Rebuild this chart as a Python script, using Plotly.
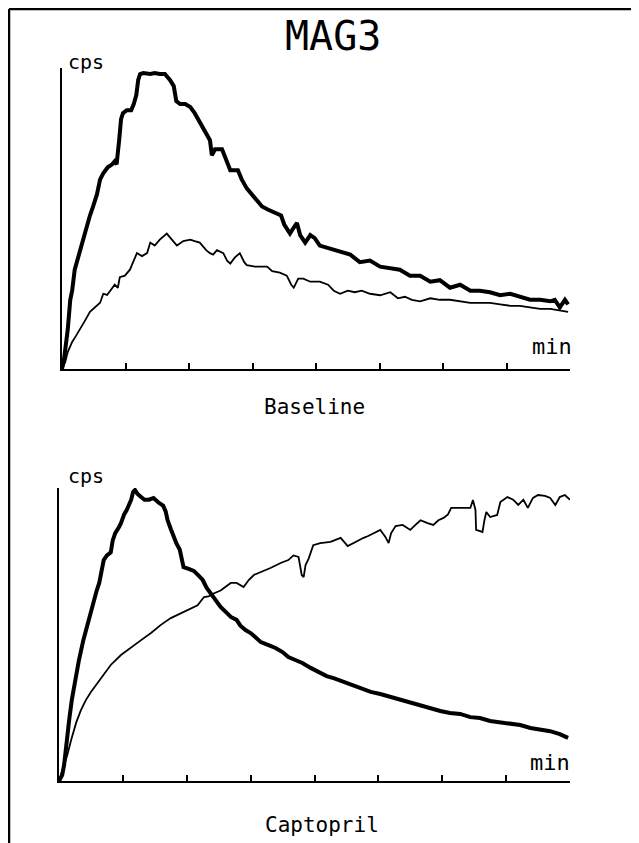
import plotly.graph_objects as go

W, H = 639, 843          # browser window
OFF = 8                  # default page margin of the html body
FW, FH = W - OFF, H - OFF

# ---------------- data (minutes, relative counts 0-100) ----------------
base_thick_t = [0, 0.03, 0.06, 0.09, 0.13, 0.16, 0.20, 0.25, 0.31, 0.38, 0.44, 0.49, 0.55, 0.60, 0.65,
                0.72, 0.79, 0.83, 0.86, 0.90, 0.93, 0.96, 1.02, 1.09, 1.13, 1.17, 1.20, 1.23, 1.28, 1.39,
                1.46, 1.54, 1.62, 1.70, 1.76, 1.80, 1.86, 1.94, 2.02, 2.09, 2.17, 2.25, 2.33, 2.36, 2.41,
                2.52, 2.58, 2.65, 2.77, 2.83, 2.91, 2.99, 3.06, 3.15, 3.24, 3.35, 3.45, 3.50, 3.59, 3.65,
                3.70, 3.75, 3.83, 3.91, 3.98, 4.06, 4.22, 4.38, 4.54, 4.69, 4.85, 5.01, 5.17, 5.32, 5.48,
                5.64, 5.80, 5.95, 6.11, 6.27, 6.43, 6.58, 6.74, 6.90, 7.06, 7.21, 7.37, 7.53, 7.69, 7.76,
                7.84, 7.92, 7.97]
base_thick_v = [0, 3, 8, 13, 23, 26, 33, 37, 41, 47, 51, 54, 58, 63, 65,
                67, 68, 69, 68, 76, 83, 85, 86, 86, 88, 91, 96, 98, 98.3, 98,
                98.3, 98, 98, 96, 94, 89, 88, 88, 87, 85, 82, 79, 76, 71, 73,
                73, 70, 66, 66, 63, 60, 58, 56, 54, 53, 52, 51, 48, 45, 47,
                48.5, 44.5, 42, 44.5, 43.5, 41, 40, 39, 38, 35.5, 36, 34, 33.5, 33, 31,
                31, 29, 29.5, 27, 28, 26, 26, 25.5, 24.5, 25, 24, 23, 23, 22.5, 23,
                20.5, 23, 21.5]

base_thin_t = [0, 0.05, 0.09, 0.16, 0.22, 0.28, 0.36, 0.44, 0.52, 0.60, 0.65, 0.71, 0.76, 0.83, 0.88,
               0.91, 0.99, 1.07, 1.12, 1.18, 1.26, 1.34, 1.39, 1.46, 1.54, 1.65, 1.73, 1.81, 1.91, 2.02,
               2.09, 2.17, 2.27, 2.33, 2.38, 2.44, 2.54, 2.60, 2.65, 2.72, 2.80, 2.87, 2.91, 3.04, 3.15,
               3.23, 3.31, 3.43, 3.54, 3.61, 3.65, 3.72, 3.80, 3.91, 4.06, 4.19, 4.28, 4.38, 4.50, 4.61,
               4.72, 4.85, 5.01, 5.17, 5.29, 5.40, 5.51, 5.64, 5.80, 5.95, 6.11, 6.27, 6.43, 6.58, 6.74,
               6.90, 7.06, 7.21, 7.37, 7.53, 7.69, 7.84, 7.97]
base_thin_v = [0, 2.3, 5.6, 9, 11, 13, 16, 19, 20.6, 22, 25, 24.6, 26, 28, 27,
               30.5, 31, 33, 35.5, 38.5, 37.5, 38.5, 42, 41, 43, 45, 43, 41, 42.5, 43,
               42.5, 42, 39.5, 38.5, 38, 39.5, 38.5, 36, 35, 37, 38.5, 35.5, 34.5, 34, 34,
               34, 32.5, 32, 31, 28, 27, 30, 30, 29, 29, 28, 26, 25, 26, 25.5,
               26, 25, 24.5, 25.5, 23.5, 24, 23, 22.5, 23.5, 23, 23, 22.5, 22, 22, 22,
               21.5, 21, 21, 20.5, 20, 20, 19.5, 19]

capt_thick_t = [0, 0.05, 0.08, 0.11, 0.16, 0.20, 0.25, 0.31, 0.38, 0.44, 0.47, 0.52, 0.55, 0.59, 0.63,
                0.67, 0.70, 0.75, 0.81, 0.84, 0.88, 0.94, 0.97, 1.02, 1.06, 1.13, 1.16, 1.19, 1.23, 1.28,
                1.34, 1.41, 1.48, 1.56, 1.63, 1.67, 1.70, 1.75, 1.80, 1.84, 1.89, 1.92, 1.95, 2.03, 2.11,
                2.19, 2.25, 2.31, 2.38, 2.45, 2.53, 2.61, 2.69, 2.78, 2.84, 2.92, 3.00, 3.08, 3.16, 3.28,
                3.39, 3.50, 3.59, 3.70, 3.81, 3.94, 4.06, 4.19, 4.31, 4.44, 4.56, 4.72, 4.88, 5.03, 5.19,
                5.34, 5.50, 5.66, 5.81, 5.97, 6.12, 6.28, 6.44, 6.59, 6.75, 6.91, 7.06, 7.22, 7.38, 7.53,
                7.69, 7.84, 7.97]
capt_thick_v = [0, 2, 5.5, 12, 21, 27.6, 34.5, 41, 48, 53, 56, 60, 62, 65, 67.6,
                72, 75.4, 77, 78, 82, 84.6, 86.7, 88, 91, 92.5, 96, 98.6, 99.3, 98, 97,
                96, 96, 96.6, 95, 94, 92, 89, 86, 83, 81, 79, 75.4, 73, 72.4, 71.7,
                70, 68.6, 66, 64, 62, 59.4, 57.7, 56, 55, 53, 51.5, 50.5, 49, 47.4, 46.4,
                45.4, 44, 42.3, 41.3, 40.3, 38.6, 37.2, 35.8, 35, 34, 32.8, 31.7, 30.4, 29.7, 28.7,
                27.6, 26.6, 25.6, 25, 23.9, 23.2, 22.9, 21.8, 21.5, 20.5, 20.1, 19.5, 19.1, 18.1, 17.7,
                17, 16, 14.7]

capt_thin_t = [0, 0.06, 0.13, 0.19, 0.27, 0.34, 0.42, 0.50, 0.58, 0.66, 0.81, 0.97, 1.13, 1.28, 1.44,
               1.59, 1.75, 1.91, 2.06, 2.17, 2.27, 2.34, 2.42, 2.53, 2.69, 2.78, 2.89, 2.97, 3.05, 3.16,
               3.31, 3.47, 3.59, 3.67, 3.75, 3.80, 3.83, 3.86, 3.91, 3.98, 4.09, 4.25, 4.41, 4.52, 4.64,
               4.77, 4.84, 4.92, 5.03, 5.11, 5.16, 5.20, 5.27, 5.38, 5.50, 5.58, 5.66, 5.77, 5.86, 5.94,
               6.02, 6.09, 6.14, 6.28, 6.44, 6.48, 6.52, 6.53, 6.63, 6.66, 6.69, 6.75, 6.86, 6.91, 7.02,
               7.11, 7.19, 7.27, 7.34, 7.42, 7.50, 7.61, 7.69, 7.77, 7.84, 7.92, 8.00]
capt_thin_v = [0, 3.8, 8.9, 14, 20, 24, 27.6, 30.4, 32.8, 35.5, 39.6, 43, 45.7, 48, 50.5,
               53.2, 55.6, 57.3, 59, 60, 62.8, 63, 64, 65, 67.6, 67.6, 66.2, 68.6, 70.3, 71.3,
               72.7, 74.4, 75.4, 77, 76.5, 70.3, 69.6, 73.7, 76, 80.5, 81.2, 81.6, 83, 80.2, 81.6,
               83, 83.6, 84.6, 85.7, 83.3, 81.2, 84.6, 87, 87.4, 85.7, 87.4, 89, 88, 87.4, 89,
               89.8, 91, 93.2, 93.2, 93.2, 95.9, 92.5, 85.7, 85, 89, 91.8, 90.1, 90.8, 95.2, 96.9,
               96, 94.2, 96, 93.2, 96.6, 97.6, 97.3, 96.6, 94.2, 96.9, 97.6, 96]

x_tick_vals = [0, 1, 2, 3, 4, 5, 6, 7, 8]

# ---------------- layout helpers (window pixel -> paper) ----------------
def px(x):
    return (x - OFF) / FW

def py(y):
    return 1 - (y - OFF) / FH

MONO = "DejaVu Sans Mono"

fig = go.Figure()

fig.add_trace(go.Scatter(x=base_thin_t, y=base_thin_v, mode="lines",
                         line=dict(color="black", width=1.8), xaxis="x", yaxis="y", showlegend=False))
fig.add_trace(go.Scatter(x=base_thick_t, y=base_thick_v, mode="lines",
                         line=dict(color="black", width=4), xaxis="x", yaxis="y", showlegend=False))
fig.add_trace(go.Scatter(x=capt_thin_t, y=capt_thin_v, mode="lines",
                         line=dict(color="black", width=1.8), xaxis="x2", yaxis="y2", showlegend=False))
fig.add_trace(go.Scatter(x=capt_thick_t, y=capt_thick_v, mode="lines",
                         line=dict(color="black", width=4), xaxis="x2", yaxis="y2", showlegend=False))

xax = dict(range=[0, 8], showgrid=False, zeroline=False, showline=True, linecolor="black",
           linewidth=2, ticks="inside", ticklen=6, tickwidth=1.5, tickcolor="black",
           tickvals=x_tick_vals, showticklabels=False, fixedrange=True)
yax = dict(range=[0, 100], showgrid=False, zeroline=False, showline=True, linecolor="black",
           linewidth=2, ticks="", showticklabels=False, fixedrange=True)

fig.update_layout(
    width=FW, height=FH,
    margin=dict(l=0, r=0, t=0, b=0),
    paper_bgcolor="white", plot_bgcolor="white",
    xaxis=dict(xax, domain=[px(62), px(570)], anchor="y"),
    yaxis=dict(yax, domain=[py(369), py(68)], anchor="x"),
    xaxis2=dict(xax, domain=[px(59), px(570)], anchor="y2"),
    yaxis2=dict(yax, domain=[py(781), py(488)], anchor="x2"),
)

def label(text, x, y, size, xanchor="center"):
    fig.add_annotation(text=text, x=px(x), y=py(y), xref="paper", yref="paper",
                       showarrow=False, xanchor=xanchor, yanchor="middle",
                       font=dict(family=MONO, size=size, color="black"))

label("MAG3", 333, 36, 40)
label("cps", 66, 62, 20, xanchor="left")
label("min", 574, 346, 22, xanchor="right")
label("Baseline", 314, 407, 21)
label("cps", 66, 476, 20, xanchor="left")
label("min", 572, 762, 22, xanchor="right")
label("Captopril", 322, 825, 21)

# page frame (left and top edges)
fig.add_shape(type="line", xref="paper", yref="paper", x0=px(9), x1=px(9), y0=py(9), y1=0,
              line=dict(color="black", width=2.5))
fig.add_shape(type="line", xref="paper", yref="paper", x0=px(9), x1=1, y0=py(9), y1=py(9),
              line=dict(color="black", width=2.5))

fig.write_html("out.html")
